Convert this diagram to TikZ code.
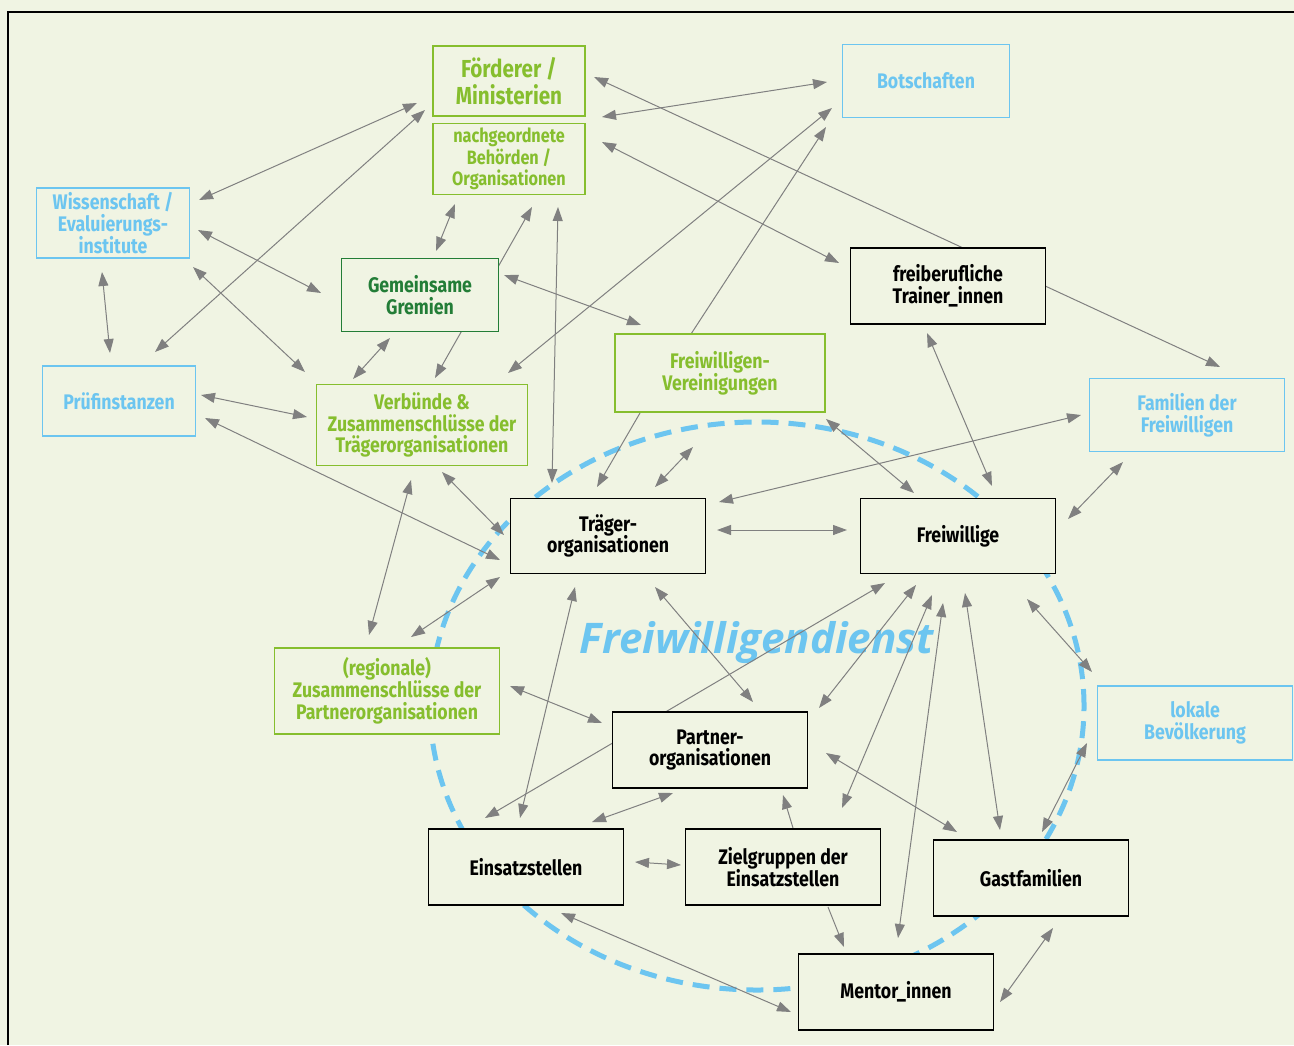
\documentclass[tikz,border=0pt]{standalone}
\usepackage{fontspec}
\setmainfont{Fira Sans}[FakeStretch=0.84]
\newfontfamily\dienstfont{Open Sans}
\usepackage{xcolor}
\usepackage{tikz}
\usetikzlibrary{positioning, calc, arrows.meta}
\definecolor{bgc}{RGB}{240,244,227}
\definecolor{fgreen}{RGB}{134,190,46}
\definecolor{dgreen}{RGB}{35,125,55}
\definecolor{fblue}{RGB}{108,197,240}
\definecolor{arrgray}{RGB}{128,128,128}
\pgfdeclarelayer{background}
\pgfdeclarelayer{behind}
\pgfsetlayers{background,behind,main}
\tikzset{
  box/.style={rectangle, draw=black, fill=bgc, line width=0.3mm, align=center, inner sep=0pt, font=\bfseries\fontsize{12}{12.4}\selectfont, minimum width=39mm, minimum height=15.2mm},
  gbox/.style={box, draw=fgreen, text=fgreen},
  bbox/.style={box, draw=fblue, text=fblue},
  dgbox/.style={box, draw=dgreen, text=dgreen},
  arrow/.style={draw=arrgray, line width=0.2mm, -{Triangle[length=2.8mm, width=2mm]}},
  biarrow/.style={arrow, {Triangle[length=2.8mm, width=2mm]}-{Triangle[length=2.8mm, width=2mm]}},
}

\begin{document}
\begin{tikzpicture}[x=0.2mm, y=-0.2mm]
        \useasboundingbox (0,0) rectangle (1294,1045);
        \begin{pgfonlayer}{background}
          \fill[bgc] (0,0) rectangle (1294,1045);
          \draw[line width=0.4mm] (8,1045) -- (8,12) -- (1294,12);
          % Freiwilligendienst
          \draw[fblue, line width=1mm, dash pattern=on 3.4mm off 2mm] (757,706) ellipse [x radius=65.4mm, y radius=56.8mm];
          \node[text=fblue, anchor=base, font=\dienstfont\bfseries\itshape\fontsize{24}{24}\selectfont] (dienst) at (757,653) {Freiwilligendienst};
        \end{pgfonlayer}

        % Foerderer
        \node[gbox, minimum width=30.4mm, minimum height=14mm, font=\bfseries\fontsize{14}{15.3}\selectfont] (foer) at (509,81) {Förderer /\\Ministerien};
        \node[gbox, minimum width=30.4mm, minimum height=14.2mm, font=\bfseries\fontsize{11}{12.3}\selectfont] (nach) at (509,159) {nachgeordnete\\Behörden /\\Organisationen};
        \node[bbox, minimum width=33.4mm, minimum height=14.6mm] (bots) at (926,81) {Botschaften};

        % Left side
        \node[bbox, minimum width=30.6mm, minimum height=14mm] (wiss) at (113,223) {Wissenschaft /\\Evaluierungs-\\institute};
        \node[dgbox, minimum width=31.4mm, minimum height=14.6mm] (grem) at (420,295) {Gemeinsame\\Gremien};
        \node[bbox, minimum width=30.6mm, minimum height=14mm] (pruef) at (119,401) {Prüfinstanzen};
        \node[gbox, minimum width=42.2mm, minimum height=16.2mm] (verb) at (422,425) {Verbünde \&\\Zusammenschlüsse der\\Trägerorganisationen};
        \node[gbox, minimum width=45mm, minimum height=17.2mm] (regio) at (387,691) {(regionale)\\Zusammenschlüsse der\\Partnerorganisationen};

        % Right side
        \node[box] (trai) at (948,286) {freiberufliche\\Trainer\_innen};
        \node[gbox, minimum width=42mm, minimum height=15.6mm] (fwv) at (720,373) {Freiwilligen-\\Vereinigungen};
        \node[bbox, minimum height=14.6mm] (fam) at (1187,415) {Familien der\\Freiwilligen};
        \node[bbox, minimum height=14.8mm] (lokal) at (1195,723) {lokale\\Bevölkerung};

        % Freiwilligendienst
        \node[box, minimum height=15mm] (traeg) at (608,536) {Träger-\\organisationen};
        \node[box, minimum height=15mm] (frei) at (958,536) {Freiwillige};
        \node[box] (partn) at (710,750) {Partner-\\organisationen};
        \node[box] (einsatz) at (526,867) {Einsatzstellen};
        \node[box] (ziel) at (783,867) {Zielgruppen der\\Einsatzstellen};
        \node[box] (gast) at (1031,878) {Gastfamilien};
        \node[box] (mentor) at (896,992) {Mentor\_innen};

        % Connections
        \begin{pgfonlayer}{behind}
        \draw[biarrow] ($(wiss)+(86,-23)$) -- ($(foer)+(-92,22)$);
        \draw[biarrow] ($(pruef)+(36,-49)$) -- ($(foer)+(-84,29)$);
        \draw[biarrow] ($(wiss)+(-11,49)$) -- ($(pruef)+(-9,-48)$);
        \draw[biarrow] ($(wiss)+(85,7)$) -- ($(grem)+(-99,-2)$);
        \draw[biarrow] ($(wiss)+(80,44)$) -- ($(verb)+(-117,-53)$);
        \draw[biarrow] ($(nach)+(-54,45)$) -- ($(grem)+(16,-44)$);
        \draw[biarrow] ($(verb)+(13,-47)$) -- ($(nach)+(23,48)$);
        \draw[biarrow] ($(grem)+(-30,43)$) -- ($(verb)+(-69,-46)$);
        \draw[biarrow] ($(nach)+(49,48)$) -- ($(traeg)+(-56,-53)$);
        \draw[biarrow] ($(grem)+(84,-20)$) -- ($(fwv)+(-79,-48)$);
        \draw[biarrow] ($(bots)+(-94,27)$) -- ($(verb)+(86,-52)$);
        \draw[biarrow] ($(bots)+(-99,1)$) -- ($(foer)+(93,36)$);
        \draw[arrow] ($(fwv)+(-29,-39)$) -- ($(bots)+(-100,46)$);
        \draw[biarrow] ($(foer)+(85,-4)$) -- ($(fam)+(33,-48)$);
        \draw[biarrow] ($(nach)+(93,-17)$) -- ($(trai)+(-109,-23)$);
        \draw[biarrow] ($(trai)+(-21,47)$) -- ($(frei)+(34,-50)$);
        \draw[arrow] ($(fwv)+(-80,40)$) -- ($(traeg)+(-11,-49)$);
        \draw[biarrow] ($(fwv)+(106,46)$) -- ($(frei)+(-44,-43)$);
        \draw[biarrow] ($(traeg)+(47,-49)$) -- ($(fwv)+(-27,74)$);
        \draw[biarrow] ($(fam)+(-106,0)$) -- ($(traeg)+(111,-34)$);
        \draw[biarrow] ($(traeg)+(109,-6)$) -- ($(frei)+(-111,-6)$);
        \draw[biarrow] ($(fam)+(-64,47)$) -- ($(frei)+(110,-17)$);
        \draw[biarrow] ($(frei)+(69,63)$) -- ($(lokal)+(-103,-51)$);
        \draw[biarrow] ($(pruef)+(82,-6)$) -- ($(verb)+(-115,-8)$);
        \draw[biarrow] ($(pruef)+(86,17)$) -- ($(traeg)+(-108,24)$);
        \draw[biarrow] ($(verb)+(20,47)$) -- ($(traeg)+(-104,-1)$);
        \draw[biarrow] ($(verb)+(-11,55)$) -- ($(regio)+(-18,-56)$);
        \draw[biarrow] ($(traeg)+(-108,41)$) -- ($(regio)+(24,-54)$);
        \draw[biarrow] ($(regio)+(123,-5)$) -- ($(partn)+(-108,-27)$);
        \draw[biarrow] ($(traeg)+(-33,51)$) -- ($(einsatz)+(-6,-49)$);
        \draw[biarrow] ($(traeg)+(47,51)$) -- ($(partn)+(43,-48)$);
        \draw[biarrow] ($(frei)+(-73,47)$) -- ($(einsatz)+(-41,-49)$);
        \draw[biarrow] ($(frei)+(-42,49)$) -- ($(partn)+(109,-42)$);
        \draw[biarrow] ($(frei)+(-26,59)$) -- ($(ziel)+(59,-59)$);
        \draw[biarrow] ($(frei)+(-15,67)$) -- ($(mentor)+(2,-54)$);
        \draw[biarrow] ($(frei)+(7,57)$) -- ($(gast)+(-31,-48)$);
        \draw[biarrow] ($(partn)+(-37,43)$) -- ($(einsatz)+(66,-45)$);
        \draw[biarrow] ($(partn)+(116,3)$) -- ($(gast)+(-74,-46)$);
        \draw[arrow] ($(ziel)+(10,-39)$) -- ($(partn)+(73,45)$);
        \draw[biarrow] ($(einsatz)+(109,-5)$) -- ($(ziel)+(-102,-2)$);
        \draw[arrow] ($(ziel)+(45,40)$) -- ($(mentor)+(-52,-45)$);
        \draw[biarrow] ($(einsatz)+(35,46)$) -- ($(mentor)+(-105,20)$);
        \draw[biarrow] ($(gast)+(22,50)$) -- ($(mentor)+(104,10)$);
        \draw[biarrow] ($(gast)+(11,-46)$) -- ($(lokal)+(-108,20)$);
        \end{pgfonlayer}
\end{tikzpicture}
\end{document}
